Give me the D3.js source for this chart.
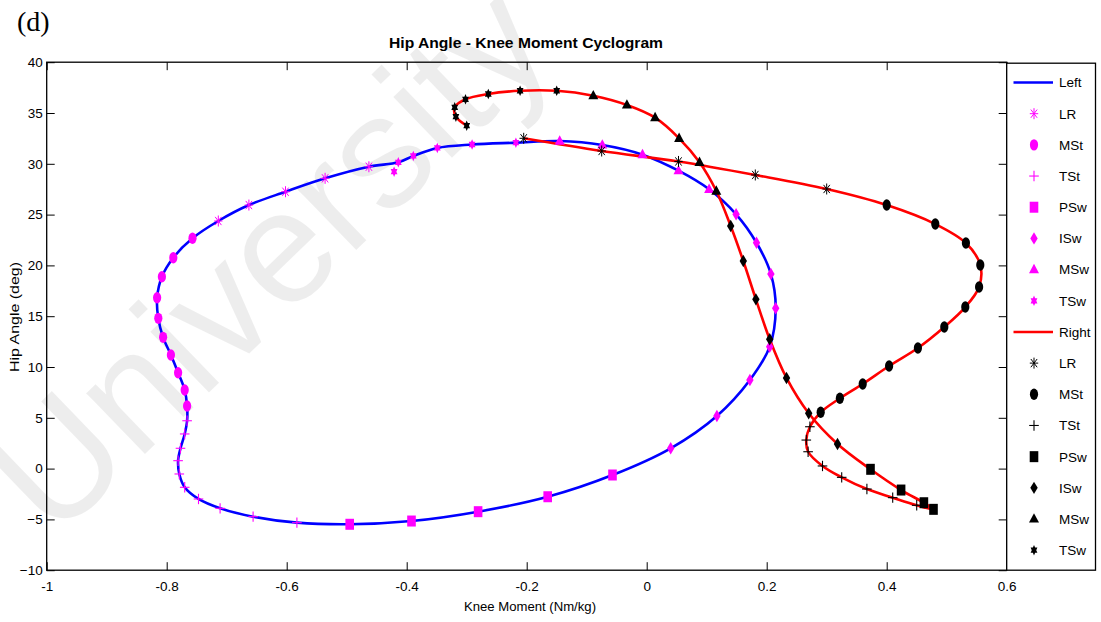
<!DOCTYPE html>
<html><head><meta charset="utf-8">
<script src="https://cdn.jsdelivr.net/npm/d3@7"></script>
<style>body{margin:0;background:#fff}svg{display:block}</style>
</head><body>
<script>
// ---------- data ----------
const phases = ["LR","MSt","TSt","PSw","ISw","MSw","TSw"];
const xTicks = [-1,-0.8,-0.6,-0.4,-0.2,0,0.2,0.4,0.6];
const yTicks = [-10,-5,0,5,10,15,20,25,30,35,40];

// Left side (blue line, magenta markers)  [knee moment, hip angle]
const leftLR  = [[-0.463,29.71],[-0.536,28.57],[-0.602,27.25],[-0.663,25.94],[-0.714,24.37]];
const leftMSt = [[-0.757,22.67],[-0.789,20.76],[-0.808,18.89],[-0.816,16.82],[-0.814,14.79],[-0.806,12.92],[-0.793,11.18],[-0.781,9.44],[-0.770,7.74],[-0.766,6.16]];
const leftTSt = [[-0.766,4.71],[-0.770,3.41],[-0.777,2.0],[-0.781,0.78],[-0.779,-0.53],[-0.770,-1.84],[-0.747,-2.99],[-0.711,-3.91],[-0.656,-4.73],[-0.583,-5.32]];
const leftPSw = [[-0.495,-5.48],[-0.392,-5.16],[-0.281,-4.24],[-0.165,-2.77],[-0.057,-0.63]];
const leftISw = [[0.040,2.0],[0.117,5.18],[0.172,8.72],[0.205,12.0],[0.215,15.78],[0.207,19.15],[0.183,22.23],[0.149,25.03]];
const leftMSw = [[0.104,27.49],[0.053,29.32],[-0.007,30.9],[-0.074,31.85],[-0.145,32.24]];
const leftTSw = [[-0.218,32.08],[-0.291,31.9],[-0.349,31.56],[-0.389,30.77],[-0.414,30.15]];
const leftTSwOffLine = [[-0.421,29.22]];   // TSw marker that sits just off the curve

// Right side (red line, black markers)
const rightLR  = [[-0.205,32.51],[-0.075,31.26],[0.053,30.23],[0.181,28.9],[0.300,27.52]];
const rightMSt = [[0.400,25.94],[0.481,24.07],[0.532,22.2],[0.556,20.04],[0.554,17.87],[0.531,15.9],[0.496,13.94],[0.452,11.87],[0.404,10.1],[0.360,8.33],[0.322,6.92],[0.290,5.54]];
const rightTSt = [[0.272,4.12],[0.266,2.81],[0.269,1.66],[0.293,0.26],[0.325,-0.86],[0.367,-2.01],[0.410,-2.86],[0.450,-3.61]];
const rightPSw = [[0.478,-4.01],[0.462,-3.36],[0.424,-2.11],[0.373,-0.07]];
const rightISw = [[0.318,2.42],[0.270,5.44],[0.233,8.92],[0.205,12.73],[0.182,16.66],[0.161,20.43],[0.140,23.88]];
const rightMSw = [[0.116,27.32],[0.088,30.15],[0.054,32.51],[0.014,34.54],[-0.033,35.79],[-0.089,36.7]];
const rightTSw = [[-0.150,37.19],[-0.211,37.19],[-0.264,36.87],[-0.302,36.35],[-0.320,35.56],[-0.318,34.64],[-0.300,33.75]];

const leftPhases  = [leftLR,leftMSt,leftTSt,leftPSw,leftISw,leftMSw,leftTSw];
const rightPhases = [rightLR,rightMSt,rightTSt,rightPSw,rightISw,rightMSw,rightTSw];

// ---------- layout ----------
const W = 1101, H = 622;
const F = "'Liberation Sans Narrow','Arial Narrow','Liberation Sans',Arial,sans-serif";
const L = 46.7, R = 1006.7, T = 62.2, B = 570.2;
const x = d3.scaleLinear().domain([-1,0.6]).range([L,R]);
const y = d3.scaleLinear().domain([-10,40]).range([B,T]);

const svg = d3.select("body").append("svg").attr("width",W).attr("height",H);
svg.append("rect").attr("width",W).attr("height",H).attr("fill","#fff");

// watermark
svg.append("text").text("University")
  .attr("transform","translate(54,542) rotate(-44)")
  .attr("font-family","'Liberation Sans',Arial,sans-serif").attr("font-size",160)
  .attr("fill","#000").attr("fill-opacity",0.07);

// ---------- axes ----------
function styleAxis(g){
  g.select(".domain").remove();
  g.selectAll(".tick line").attr("stroke","#000").attr("stroke-width",1);
  g.selectAll(".tick text").attr("font-family",F).attr("font-size",13.5).attr("fill","#000");
}
svg.append("g").attr("transform",`translate(${L},0)`)
  .call(d3.axisLeft(y).tickValues(yTicks).tickSize(-8).tickPadding(4).tickFormat(d3.format("d")))
  .call(styleAxis);
svg.append("g").attr("transform",`translate(${R},0)`)
  .call(d3.axisRight(y).tickValues(yTicks).tickSize(-8).tickFormat(""))
  .call(styleAxis);
svg.append("g").attr("transform",`translate(0,${B})`)
  .call(d3.axisBottom(x).tickValues(xTicks).tickSize(-8).tickPadding(11).tickFormat(d=>d===0?"0":String(d)))
  .call(styleAxis);
svg.append("g").attr("transform",`translate(0,${T})`)
  .call(d3.axisTop(x).tickValues(xTicks).tickSize(-8).tickFormat(""))
  .call(styleAxis);

// ---------- lines ----------
const leftAll = leftPhases.flat();
const rightAll = rightPhases.flat();
svg.append("path")
  .attr("d", d3.line().x(d=>x(d[0])).y(d=>y(d[1])).curve(d3.curveCatmullRomClosed.alpha(0.5))(leftAll))
  .attr("fill","none").attr("stroke","#0000ff").attr("stroke-width",2.6);
svg.append("path")
  .attr("d", d3.line().x(d=>x(d[0])).y(d=>y(d[1])).curve(d3.curveCatmullRom.alpha(0.5))(rightAll))
  .attr("fill","none").attr("stroke","#ff0000").attr("stroke-width",2.6);

// ---------- markers ----------
function hexagram(R0){
  const pts=[];
  for(let k=0;k<12;k++){
    const a=(k*30-90)*Math.PI/180, r=k%2===0?R0:R0/Math.sqrt(3);
    pts.push([r*Math.cos(a), r*Math.sin(a)*1.35]);
  }
  return "M"+pts.map(p=>p[0].toFixed(2)+","+p[1].toFixed(2)).join("L")+"Z";
}
function drawMarker(g, type, cx, cy, color){
  const m = g.append("g").attr("transform",`translate(${cx},${cy})`);
  switch(type){
    case "LR": { // asterisk
      const hw=4.2, hh=5.5;
      [[0,-hh,0,hh],[-hw,0,hw,0],[-hw*0.75,-hh*0.75,hw*0.75,hh*0.75],[-hw*0.75,hh*0.75,hw*0.75,-hh*0.75]]
        .forEach(s=>m.append("line").attr("x1",s[0]).attr("y1",s[1]).attr("x2",s[2]).attr("y2",s[3])
          .attr("stroke",color).attr("stroke-width",1));
      break; }
    case "MSt":
      m.append("ellipse").attr("rx",4.1).attr("ry",5.7).attr("fill",color); break;
    case "TSt":
      m.append("line").attr("x1",-4.8).attr("x2",4.8).attr("y1",0).attr("y2",0).attr("stroke",color).attr("stroke-width",1.1);
      m.append("line").attr("x1",0).attr("x2",0).attr("y1",-5.2).attr("y2",5.2).attr("stroke",color).attr("stroke-width",1.1);
      break;
    case "PSw":
      m.append("rect").attr("x",-4.3).attr("y",-5.5).attr("width",8.6).attr("height",11).attr("fill",color); break;
    case "ISw":
      m.append("path").attr("d","M0,-6.2L3.7,0L0,6.2L-3.7,0Z").attr("fill",color); break;
    case "MSw":
      m.append("path").attr("d","M0,-5.8L5,3.6L-5,3.6Z").attr("fill",color); break;
    case "TSw":
      m.append("path").attr("d",hexagram(3.9)).attr("fill",color); break;
  }
}
const mg = svg.append("g");
leftPhases.forEach((arr,i)=>arr.forEach(d=>drawMarker(mg, phases[i], x(d[0]), y(d[1]), "#ff00ff")));
leftTSwOffLine.forEach(d=>drawMarker(mg, "TSw", x(d[0]), y(d[1]), "#ff00ff"));
rightPhases.forEach((arr,i)=>arr.forEach(d=>drawMarker(mg, phases[i], x(d[0]), y(d[1]), "#000000")));

// ---------- frame ----------
svg.append("rect").attr("x",L).attr("y",T).attr("width",R-L).attr("height",B-T)
  .attr("fill","none").attr("stroke","#000").attr("stroke-width",1.3);

// ---------- legend ----------
const LX0 = R, LX1 = 1095.5;
svg.append("rect").attr("x",LX0).attr("y",T+1).attr("width",LX1-LX0).attr("height",B-T-1)
  .attr("fill","#fff").attr("stroke","#000").attr("stroke-width",1.3);
const legendItems = [{kind:"line",color:"#0000ff",label:"Left"}]
  .concat(phases.map(p=>({kind:p,color:"#ff00ff",label:p})))
  .concat([{kind:"line",color:"#ff0000",label:"Right"}])
  .concat(phases.map(p=>({kind:p,color:"#000000",label:p})));
const lg = svg.append("g");
legendItems.forEach((it,i)=>{
  const cy = 82.5 + i*31.18;
  if(it.kind==="line"){
    lg.append("line").attr("x1",1013.5).attr("x2",1053).attr("y1",cy).attr("y2",cy)
      .attr("stroke",it.color).attr("stroke-width",2.6);
  } else {
    drawMarker(lg, it.kind, 1034, cy, it.color);
  }
  lg.append("text").attr("x",1059).attr("y",cy).attr("dy","0.36em")
    .attr("font-family",F).attr("font-size",13.5).attr("fill","#000").text(it.label);
});

// ---------- titles ----------
svg.append("text").attr("x",526).attr("y",48).attr("text-anchor","middle")
  .attr("font-family",F).attr("font-weight","bold").attr("font-size",15)
  .attr("textLength",274).attr("lengthAdjust","spacingAndGlyphs")
  .text("Hip Angle - Knee Moment Cyclogram");
svg.append("text").attr("x",530).attr("y",611).attr("text-anchor","middle")
  .attr("font-family",F).attr("font-size",13)
  .attr("textLength",132).attr("lengthAdjust","spacingAndGlyphs")
  .text("Knee Moment (Nm/kg)");
svg.append("text").attr("transform","translate(19,317) rotate(-90)").attr("text-anchor","middle")
  .attr("font-family",F).attr("font-size",13)
  .attr("textLength",110).attr("lengthAdjust","spacingAndGlyphs")
  .text("Hip Angle (deg)");
svg.append("text").attr("x",17).attr("y",31)
  .attr("font-family","'Liberation Serif','Times New Roman',serif").attr("font-size",28)
  .text("(d)");
</script>
</body></html>
